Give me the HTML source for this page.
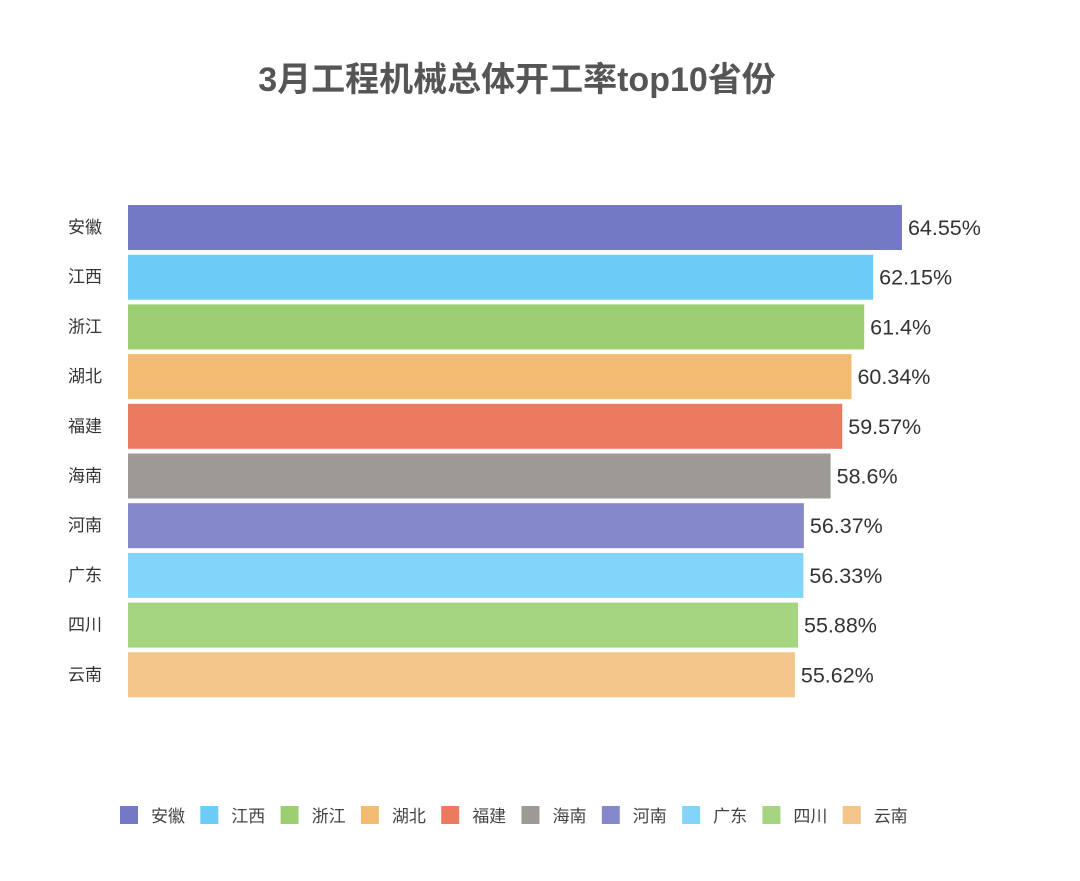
<!DOCTYPE html>
<html><head><meta charset="utf-8"><style>
body{margin:0;background:#fff;font-family:"Liberation Sans","Noto Sans CJK SC",sans-serif;}
#c{position:relative;width:1080px;height:881px;overflow:hidden;}
</style></head><body>
<div id="c">
<svg id="s" width="1080" height="881">
<text x="517" y="91" text-anchor="middle" font-size="34" font-weight="bold" fill="#555" font-family="Liberation Sans,Noto Sans CJK SC,sans-serif">3月工程机械总体开工率top10省份</text>
</svg>
</div>
<script>
const categories=["安徽","江西","浙江","湖北","福建","海南","河南","广东","四川","云南"];
const values=[64.55,62.15,61.4,60.34,59.57,58.6,56.37,56.33,55.88,55.62];
const valueLabels=["64.55%","62.15%","61.4%","60.34%","59.57%","58.6%","56.37%","56.33%","55.88%","55.62%"];
const colors=["#7479c6","#6dcbf8","#9ccf72","#f2bb71","#eb7a5e","#9d9a95","#8589cc","#82d4f9","#a6d582","#f4c589"];
const NS="http://www.w3.org/2000/svg";
const svg=document.getElementById('s');
const x=v=>128+v*11.99;
const y=i=>205+i*49.7;
function mk(t,a){const e=document.createElementNS(NS,t);for(const k in a)e.setAttribute(k,a[k]);svg.appendChild(e);return e;}
categories.forEach((c,i)=>{
  const r=mk('rect',{x:128,y:y(i),width:x(values[i])-128,height:45,fill:colors[i]});
  
  
  const l=mk('text',{x:68,y:y(i)+28,'font-size':17,fill:'#333'});l.textContent=c;
  
  
  const v=mk('text',{x:x(values[i])+6,y:y(i)+30,'font-size':21.5,fill:'#333'});v.textContent=valueLabels[i];
  
  
  const lx=120+i*80.3;
  const sw=mk('rect',{x:lx,y:806,width:18,height:18,fill:colors[i]});
  
  
  const lt=mk('text',{x:lx+31,y:822,'font-size':17,fill:'#444'});lt.textContent=c;
  
  
});
</script>
</body></html>
